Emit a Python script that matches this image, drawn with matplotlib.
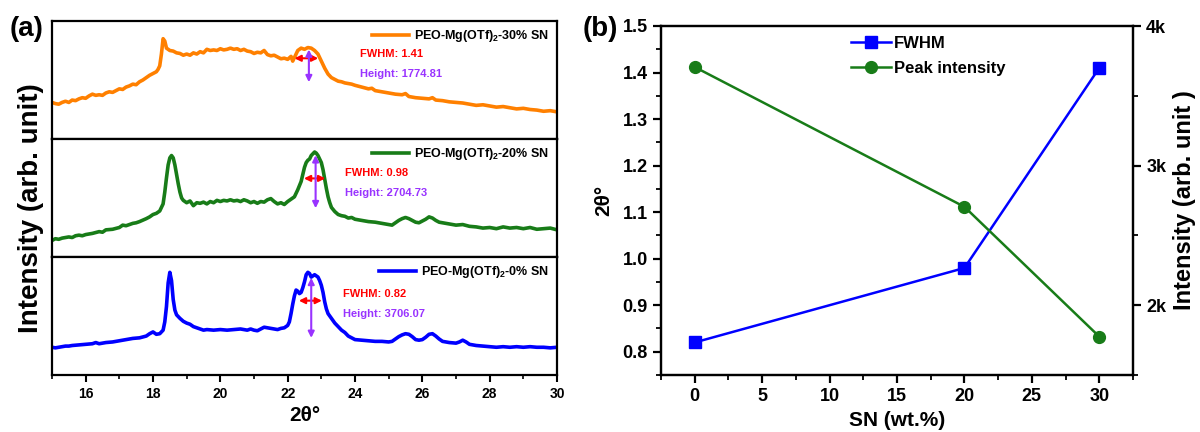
import numpy as np
import matplotlib
matplotlib.use("Agg")
import matplotlib.pyplot as plt
from matplotlib.ticker import MultipleLocator, FixedLocator

plt.rcParams['font.family'] = ['Liberation Sans', 'DejaVu Sans']
plt.rcParams['font.weight'] = 'bold'
plt.rcParams['mathtext.fontset'] = 'custom'
plt.rcParams['mathtext.rm'] = 'Liberation Sans:bold'
plt.rcParams['mathtext.bf'] = 'Liberation Sans:bold'

# ---------------- (a) XRD patterns, intensity in % of panel height
x30 = [15.0, 15.1, 15.2, 15.3, 15.4, 15.5, 15.6, 15.7, 15.8, 15.9, 16.0, 16.1, 16.2, 16.3, 16.4, 16.5,
       16.6, 16.7, 16.8, 16.9, 17.0, 17.1, 17.2, 17.3, 17.4, 17.5, 17.6, 17.7, 17.8, 17.9, 18.0, 18.1,
       18.15, 18.2, 18.25, 18.3, 18.35, 18.4, 18.5, 18.6, 18.7, 18.8, 18.9, 19.0, 19.1, 19.2, 19.3, 19.4,
       19.5, 19.6, 19.7, 19.8, 19.9, 20.0, 20.1, 20.2, 20.3, 20.4, 20.5, 20.6, 20.7, 20.8, 20.9, 21.0,
       21.1, 21.2, 21.3, 21.4, 21.5, 21.6, 21.7, 21.8, 21.9, 22.0, 22.1, 22.15, 22.2, 22.3, 22.4, 22.5,
       22.6, 22.7, 22.8, 22.9, 23.0, 23.1, 23.2, 23.3, 23.4, 23.5, 23.6, 23.7, 23.8, 23.9, 24.0, 24.2,
       24.4, 24.5, 24.6, 24.8, 25.0, 25.2, 25.4, 25.5, 25.6, 25.8, 26.0, 26.2, 26.3, 26.4, 26.6, 26.8,
       27.0, 27.2, 27.4, 27.6, 27.8, 28.0, 28.2, 28.4, 28.6, 28.8, 29.0, 29.2, 29.4, 29.6, 29.8, 30.0]
y30 = [31, 30, 29.5, 31, 32, 31, 33, 32.5, 34, 35, 34.5, 36.5, 38, 37, 37.5, 37,
       39, 40, 39.5, 41, 42.5, 42, 44, 45, 46.5, 46, 48.5, 50, 52, 54, 55.5, 57,
       59, 62, 72, 85, 83, 77, 75, 74.5, 73, 72.5, 71, 72, 71, 73, 72, 74,
       73, 76, 75, 75.5, 75, 76.5, 75.5, 76, 77, 76, 76.5, 75, 76, 74.5, 74, 72.5,
       73.5, 73, 75, 71.5, 70.5, 71, 69.5, 68, 68.5, 67.5, 70, 66, 69, 75, 77, 76,
       77.5, 77, 75, 72, 66, 60, 55, 52, 50.5, 49, 48.5, 47.5, 47, 46.5, 45.5, 44,
       42.5, 43, 41, 40, 39, 38, 37.5, 38.5, 36, 35, 34.5, 34, 35, 33, 32.5, 31.5,
       31, 30.5, 29.5, 28.5, 29, 28, 27, 27.5, 26.5, 25.5, 26, 25, 24.5, 23.5, 24, 23]

x20 = [15.0, 15.1, 15.2, 15.3, 15.4, 15.5, 15.6, 15.7, 15.8, 15.9, 16.0, 16.2, 16.4, 16.5, 16.6, 16.8,
       17.0, 17.1, 17.2, 17.4, 17.5, 17.6, 17.8, 17.9, 18.0, 18.1, 18.2, 18.3, 18.35, 18.4, 18.45, 18.5,
       18.55, 18.6, 18.65, 18.7, 18.75, 18.8, 18.85, 18.9, 19.0, 19.1, 19.2, 19.3, 19.4, 19.5, 19.6, 19.7,
       19.8, 19.9, 20.0, 20.1, 20.2, 20.3, 20.4, 20.5, 20.6, 20.7, 20.8, 20.9, 21.0, 21.1, 21.2, 21.3,
       21.4, 21.5, 21.6, 21.7, 21.8, 21.9, 22.0, 22.1, 22.2, 22.3, 22.4, 22.45, 22.5, 22.55, 22.6, 22.65,
       22.7, 22.75, 22.8, 22.85, 22.9, 22.95, 23.0, 23.05, 23.1, 23.15, 23.2, 23.25, 23.3, 23.4, 23.5, 23.6,
       23.7, 23.8, 23.9, 24.0, 24.2, 24.4, 24.6, 24.8, 25.0, 25.1, 25.2, 25.3, 25.4, 25.5, 25.6, 25.7,
       25.8, 25.9, 26.0, 26.1, 26.2, 26.3, 26.4, 26.5, 26.6, 26.8, 27.0, 27.2, 27.4, 27.6, 27.8, 28.0,
       28.2, 28.4, 28.6, 28.8, 29.0, 29.2, 29.4, 29.6, 29.8, 30.0]
y20 = [14, 15.5, 15, 16, 16.5, 17, 16.5, 18, 18.5, 18, 19, 20, 21.5, 21, 23, 23.5,
       25, 27, 26.5, 28.5, 29, 30, 32.5, 34, 36, 37, 39, 45, 55, 67, 78, 84,
       86, 84, 78, 70, 62, 55, 50, 48, 46, 47.5, 43.5, 46, 45.5, 46.5, 45, 47,
       46, 48, 47, 48, 47.5, 48.5, 47.5, 48, 47, 48.5, 47.5, 46, 47, 45.5, 47, 46.5,
       48.5, 49.5, 47, 45, 46, 44.5, 47, 49, 51, 57, 64, 70, 76, 80, 82, 83,
       86, 87.5, 89, 88, 86, 83, 80, 74, 66, 58, 51, 46, 42, 38.5, 36, 35,
       34.5, 33, 33.5, 32, 31, 30, 29.5, 28.5, 27.5, 27, 29, 31, 32.5, 33.5, 32.5, 31,
       29.5, 29, 30.5, 32, 34, 33, 31, 29.5, 29, 28, 27, 27.5, 26, 25.5, 24.5, 25,
       24, 25.5, 24.5, 25, 24, 25, 23.5, 24, 24.5, 23]

x0 = [15.0, 15.1, 15.2, 15.3, 15.4, 15.5, 15.6, 15.8, 16.0, 16.2, 16.3, 16.4, 16.6, 16.8, 17.0, 17.2,
      17.4, 17.6, 17.8, 17.9, 18.0, 18.1, 18.2, 18.3, 18.35, 18.4, 18.45, 18.5, 18.55, 18.6, 18.65, 18.7,
      18.8, 18.9, 19.0, 19.1, 19.2, 19.3, 19.4, 19.5, 19.6, 19.8, 20.0, 20.2, 20.4, 20.6, 20.8, 20.9,
      21.0, 21.1, 21.2, 21.3, 21.4, 21.5, 21.6, 21.7, 21.8, 21.9, 22.0, 22.05, 22.1, 22.15, 22.2, 22.25,
      22.3, 22.35, 22.4, 22.45, 22.5, 22.55, 22.6, 22.65, 22.7, 22.75, 22.8, 22.85, 22.9, 22.95, 23.0, 23.05,
      23.1, 23.15, 23.2, 23.3, 23.4, 23.5, 23.6, 23.7, 23.8, 23.9, 24.0, 24.2, 24.4, 24.6, 24.8, 25.0,
      25.1, 25.2, 25.3, 25.4, 25.5, 25.6, 25.7, 25.8, 25.9, 26.0, 26.1, 26.2, 26.3, 26.4, 26.5, 26.6,
      26.8, 27.0, 27.1, 27.2, 27.3, 27.4, 27.6, 27.8, 28.0, 28.2, 28.4, 28.6, 28.8, 29.0, 29.2, 29.4,
      29.6, 29.8, 30.0]
y0 = [23.5, 23, 23.5, 24, 24.5, 24.5, 25, 25.5, 26, 26.5, 27.5, 26.5, 27.5, 28, 29, 30,
      31, 31.5, 33, 35, 36.5, 34.5, 35, 38, 45, 58, 78, 87, 80, 64, 55, 51,
      48, 45.5, 44, 43, 41, 40, 39, 38, 38.5, 38, 38.5, 38, 38.5, 39, 38, 39,
      38, 37.5, 39, 40.5, 40, 39.5, 39, 38.5, 39.5, 40, 42, 45, 52, 60, 67, 72,
      71, 69, 70, 74, 79, 85, 87, 86, 83, 84, 85, 84, 83, 80, 76, 70,
      62, 56, 52, 48, 44, 41, 38, 36, 33, 31.5, 30, 29.5, 29, 28.5, 28.5, 28,
      28.5, 30.5, 32.5, 34, 35, 34.5, 32.5, 30, 29.5, 30, 32, 34.5, 35, 33, 30.5, 28.5,
      27.5, 27, 28, 29.5, 28, 26, 25, 24.5, 24, 23.5, 24, 23.5, 24, 23.5, 24, 23.5,
      23.5, 23, 23.5]

labels_a = [r'PEO-Mg(OTf)$_2$-30% SN', r'PEO-Mg(OTf)$_2$-20% SN', r'PEO-Mg(OTf)$_2$-0% SN']
fwhm_txt = ['FWHM: 1.41', 'FWHM: 0.98', 'FWHM: 0.82']
height_txt = ['Height: 1774.81', 'Height: 2704.73', 'Height: 3706.07']
# FWHM arrow (left, right, level) and height arrow (x, top, bottom)
fwhm_left = [22.12, 22.4, 22.25]
fwhm_right = [22.99, 23.2, 23.1]
fwhm_level = [68.4, 66.6, 63]
peak_x = [22.63, 22.83, 22.7]
peak_top = [78.2, 88.6, 84.7]
peak_bottom = [45.8, 39, 29.1]
text_x = [24.15, 23.7, 23.65]
fwhm_ty = [71.7, 70.9, 68.6]
height_ty = [54.8, 54, 51.7]

# ---------------- (b)
sn = [0, 20, 30]
fwhm = [0.82, 0.98, 1.41]
peak = [3706.07, 2704.73, 1774.81]

W, H = 1200, 432
def box(l, t, r, b):
    return [l / W, 1 - b / H, (r - l) / W, (b - t) / H]

fig = plt.figure(figsize=(12, 4.32), dpi=100)

colors = ['#FF8000', '#187C18', '#0000FF']
xs = [x30, x20, x0]
ys = [y30, y20, y0]
tops = [21, 139, 257]
for i in range(3):
    ax = fig.add_axes(box(52, tops[i], 557, tops[i] + 118))
    ax.plot(xs[i], ys[i], color=colors[i], lw=2.6, label=labels_a[i])
    ax.set_xlim(15, 30)
    ax.set_ylim(0, 100)
    ax.set_yticks([])
    for s in ax.spines.values():
        s.set_linewidth(1.6)
    ax.annotate('', xy=(fwhm_left[i], fwhm_level[i]), xytext=(fwhm_right[i], fwhm_level[i]),
                arrowprops=dict(arrowstyle='<|-|>', color='red', lw=1.5, mutation_scale=9))
    ax.annotate('', xy=(peak_x[i], peak_top[i]), xytext=(peak_x[i], peak_bottom[i]),
                arrowprops=dict(arrowstyle='<|-|>', color='#9933FF', lw=1.5, mutation_scale=9))
    ax.text(text_x[i], fwhm_ty[i], fwhm_txt[i], color='red', fontsize=8, fontweight='bold', va='center')
    ax.text(text_x[i], height_ty[i], height_txt[i], color='#9933FF', fontsize=8, fontweight='bold', va='center')
    ax.legend(loc='upper right', frameon=False, handlelength=3.0,
              borderaxespad=0.2, handletextpad=0.4, prop={'weight': 'bold', 'size': 9})
    ax.xaxis.set_major_locator(MultipleLocator(2))
    ax.xaxis.set_minor_locator(MultipleLocator(1))
    if i < 2:
        ax.tick_params(axis='x', which='both', bottom=False, labelbottom=False)
    else:
        ax.tick_params(axis='x', which='major', direction='out', length=5, width=1.5, labelsize=10, pad=4)
        ax.tick_params(axis='x', which='minor', direction='out', length=3, width=1.2)
        for lab in ax.get_xticklabels():
            lab.set_fontweight('bold')
        ax.set_xlabel('2θ°', fontsize=15, fontweight='bold', labelpad=3)

fig.text(31 / W, 1 - 208 / H, 'Intensity (arb. unit)', rotation=90, fontsize=20,
         fontweight='bold', ha='center', va='center')
fig.text(10 / W, 1 - 29 / H, '(a)', fontsize=20, fontweight='bold', ha='left', va='center')
fig.text(583 / W, 1 - 29 / H, '(b)', fontsize=20, fontweight='bold', ha='left', va='center')

# ---------------- (b) panel
axb = fig.add_axes(box(661, 26, 1133, 375))
l1, = axb.plot(sn, fwhm, color='#0000FF', lw=1.8, marker='s', markersize=8, label='FWHM')
axb.set_xlim(-2.5, 32.5)
axb.set_ylim(0.75, 1.5)
axb.xaxis.set_major_locator(MultipleLocator(5))
axb.xaxis.set_minor_locator(MultipleLocator(2.5))
axb.yaxis.set_major_locator(FixedLocator([0.8, 0.9, 1.0, 1.1, 1.2, 1.3, 1.4, 1.5]))
axb.yaxis.set_minor_locator(MultipleLocator(0.05))
axb.set_yticklabels(['0.8', '0.9', '1.0', '1.1', '1.2', '1.3', '1.4', '1.5'])
axb.tick_params(which='major', direction='out', length=6, width=1.6, labelsize=13)
axb.tick_params(which='minor', direction='out', length=3.5, width=1.3)
axb.set_xlabel('SN (wt.%)', fontsize=15, fontweight='bold', labelpad=4)
axb.set_ylabel('2θ°', fontsize=15, fontweight='bold', labelpad=7)
for lab in axb.get_xticklabels() + axb.get_yticklabels():
    lab.set_fontweight('bold')

axr = axb.twinx()
l2, = axr.plot(sn, peak, color='#187C18', lw=1.8, marker='o', markersize=8.5, label='Peak intensity')
axr.set_ylim(1500, 4000)
axr.yaxis.set_major_locator(FixedLocator([2000, 3000, 4000]))
axr.yaxis.set_minor_locator(MultipleLocator(500))
axr.set_yticklabels(['2k', '3k', '4k'])
axr.tick_params(which='major', direction='out', length=6, width=1.6, labelsize=13)
axr.tick_params(which='minor', direction='out', length=3.5, width=1.3)
for lab in axr.get_yticklabels():
    lab.set_fontweight('bold')
axr.set_ylabel('Intensity (arb. unit )', fontsize=17, fontweight='bold', labelpad=5)
for a in (axb, axr):
    for s in a.spines.values():
        s.set_linewidth(1.6)

axr.legend(handles=[l1, l2], loc='upper left', bbox_to_anchor=(0.37, 1.015), frameon=False,
           prop={'weight': 'bold', 'size': 12}, handlelength=2.4, handletextpad=0.2, labelspacing=0.6)

fig.savefig('out.png', dpi=100)
